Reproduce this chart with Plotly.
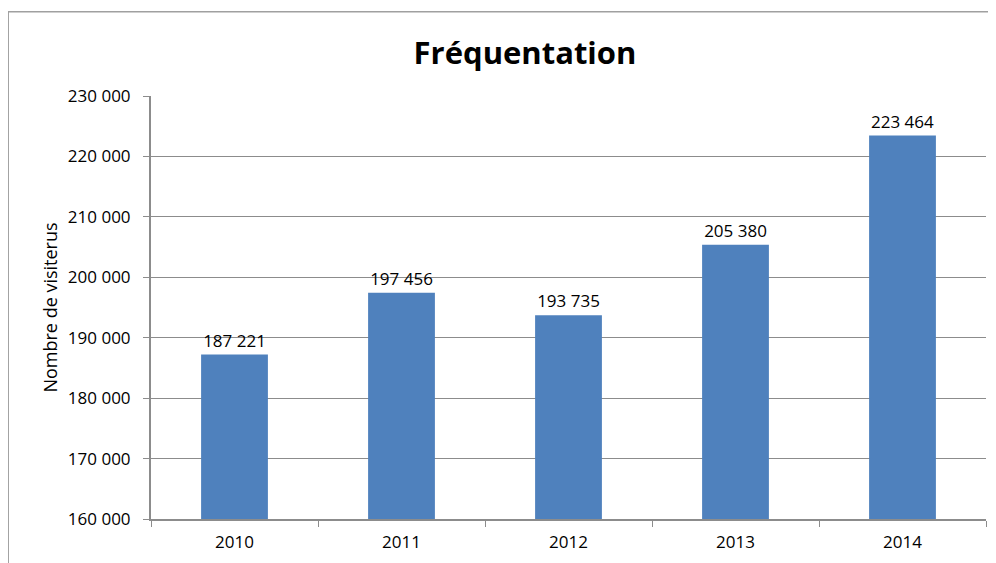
import plotly.graph_objects as go

# Visitor counts per year
YEARS = ["2010", "2011", "2012", "2013", "2014"]
VISITORS = [187221, 197456, 193735, 205380, 223464]

Y_TICKS = [160000, 170000, 180000, 190000, 200000, 210000, 220000, 230000]

BAR_COLOUR = "#4F81BD"
GRID_COLOUR = "#8C8C8C"
FONT = "'Open Sans', Lato, sans-serif"

# the page body adds an 8px offset, so margins are shifted by that amount
OFFSET = 8

fig = go.Figure(
    go.Bar(
        x=YEARS,
        y=VISITORS,
        marker=dict(color=BAR_COLOUR, line=dict(width=0)),
        texttemplate="%{y:,.0f}",
        textposition="outside",
        textfont=dict(size=17, color="#000000", family=FONT),
        cliponaxis=False,
    )
)

fig.update_yaxes(
    range=[160000, 230000],
    tickmode="array",
    tickvals=Y_TICKS,
    tickformat=",.0f",
    tickfont=dict(size=17, color="#000000", family=FONT),
    ticklabelstandoff=9,
    showgrid=True,
    gridcolor=GRID_COLOUR,
    gridwidth=1,
    showline=True,
    linecolor=GRID_COLOUR,
    linewidth=2,
    ticks="outside",
    ticklen=6,
    tickcolor=GRID_COLOUR,
    zeroline=False,
    title=dict(
        text="Nombre de visiterus",
        font=dict(size=18, color="#000000", family=FONT),
        standoff=6,
    ),
)
fig.update_xaxes(
    showline=True,
    linecolor=GRID_COLOUR,
    linewidth=2,
    ticks="outside",
    tickson="boundaries",
    ticklen=6,
    tickcolor=GRID_COLOUR,
    tickfont=dict(size=17, color="#000000", family=FONT),
    ticklabelstandoff=7,
    showgrid=False,
)

# outer chart-area frame, cut off at the right and bottom like the source
fig.add_shape(
    type="rect",
    xref="paper", yref="paper",
    x0=-0.171, x1=1.05, y0=-0.2, y1=1.199,
    line=dict(color="#A0A0A0", width=1.5),
    fillcolor="rgba(0,0,0,0)",
    layer="below",
)

fig.update_layout(
    width=996,
    height=563,
    margin=dict(l=151 - OFFSET, r=10 + OFFSET, t=96 - OFFSET, b=44 + OFFSET),
    bargap=0.6,
    separators=", ",
    showlegend=False,
    plot_bgcolor="#FFFFFF",
    paper_bgcolor="#FFFFFF",
    title=dict(
        text="<b>Fréquentation</b>",
        x=(525 - OFFSET) / 996, xanchor="center",
        y=1 - (53 - OFFSET) / 563, yanchor="middle",
        font=dict(size=31, color="#000000", family=FONT),
    ),
)

fig.write_html("out.html")
